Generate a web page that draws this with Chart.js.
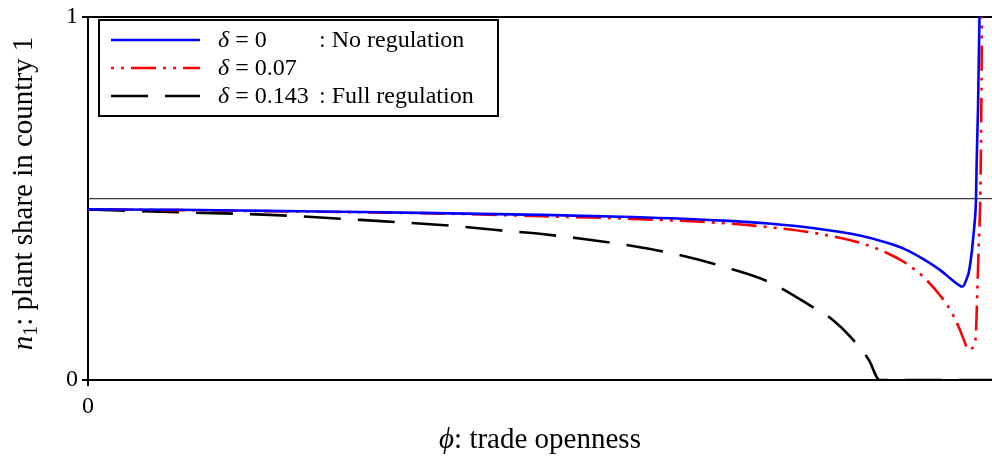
<!DOCTYPE html>
<html>
<head>
<meta charset="utf-8">
<script src="https://cdn.jsdelivr.net/npm/chart.js@4.4.1/dist/chart.umd.min.js"></script>
<style>
    html, body { margin: 0; padding: 0; background: #fff; }
    canvas { display: block; }
</style>
</head>
<body>
<canvas id="plant-share-chart" width="992" height="457"></canvas>
<script>
// phi: trade openness, n1: plant share in country 1
const phiNoRegulation = [0, 0.1, 0.2, 0.3, 0.4, 0.5, 0.6, 0.7, 0.75, 0.8, 0.85, 0.88, 0.9, 0.92, 0.94, 0.95, 0.96, 0.9625, 0.965, 0.968, 0.97, 0.9735, 0.975, 0.9765, 0.978, 0.9787, 0.9802, 0.9818];
const shareNoRegulation = [0.470, 0.469, 0.466, 0.463, 0.459, 0.455, 0.449, 0.439, 0.431, 0.418, 0.398, 0.378, 0.360, 0.333, 0.300, 0.279, 0.260, 0.257, 0.262, 0.281, 0.296, 0.356, 0.395, 0.435, 0.500, 0.600, 0.750, 1.000];

const phiPartial = [0, 0.1, 0.2, 0.3, 0.4, 0.5, 0.6, 0.7, 0.75, 0.8, 0.85, 0.88, 0.9, 0.92, 0.94, 0.95, 0.96, 0.965, 0.9695, 0.972, 0.9765, 0.978, 0.9795, 0.981, 0.9828, 0.984, 0.9845];
const sharePartial = [0.470, 0.468, 0.465, 0.462, 0.458, 0.451, 0.444, 0.432, 0.421, 0.405, 0.378, 0.350, 0.323, 0.284, 0.228, 0.191, 0.140, 0.108, 0.083, 0.086, 0.098, 0.135, 0.250, 0.370, 0.520, 0.800, 1.000];

const phiFull = [0, 0.1, 0.2, 0.3, 0.4, 0.45, 0.5, 0.55, 0.6, 0.65, 0.7, 0.75, 0.8, 0.82, 0.84, 0.86, 0.872, 1];
const shareFull = [0.470, 0.462, 0.455, 0.441, 0.425, 0.413, 0.402, 0.387, 0.369, 0.345, 0.312, 0.270, 0.198, 0.166, 0.118, 0.055, 0, 0];

const deltaValues = ['0', '0.07', '0.143'];
const regimeLabels = [': No regulation', '', ': Full regulation'];

const xTickValues = [0, 1];
const yTickValues = [0, 0.5, 1];
const yTickLabels = ['0', '', '1'];

const SERIF = '"Liberation Serif", "DejaVu Serif", serif';

function toPoints(xs, ys) {
    return xs.map((x, i) => ({ x: x, y: ys[i] }));
}

// draws a row of text pieces (some italic, some subscript)
function drawRuns(ctx, runs, x, y, size, align) {
    const fontFor = r => (r.italic ? 'italic ' : '') + (r.size || size) + 'px ' + SERIF;
    let total = 0;
    runs.forEach(r => { ctx.font = fontFor(r); total += ctx.measureText(r.text).width; });
    let cx = align === 'center' ? x - total / 2 : x;
    runs.forEach(r => {
        ctx.font = fontFor(r);
        ctx.fillText(r.text, cx, y + (r.dy || 0));
        cx += ctx.measureText(r.text).width;
    });
}

const customLegend = {
    id: 'customLegend',
    afterDatasetsDraw(chart) {
        const ctx = chart.ctx;
        ctx.save();
        ctx.fillStyle = '#fff';
        ctx.fillRect(99, 20, 399, 96);
        ctx.strokeStyle = '#000';
        ctx.lineWidth = 2;
        ctx.strokeRect(99, 20, 399, 96);

        chart.data.datasets.forEach((ds, i) => {
            const y = 40 + i * 28;
            ctx.beginPath();
            ctx.strokeStyle = ds.borderColor;
            ctx.lineWidth = ds.borderWidth;
            ctx.setLineDash(ds.borderDash || []);
            ctx.moveTo(111, y);
            ctx.lineTo(200, y);
            ctx.stroke();
            ctx.setLineDash([]);

            ctx.fillStyle = '#000';
            ctx.textBaseline = 'middle';
            drawRuns(ctx, [{ text: 'δ', italic: true }, { text: ' = ' + deltaValues[i] }], 218, y + 1, 24);
            if (regimeLabels[i]) {
                drawRuns(ctx, [{ text: regimeLabels[i] }], 319, y + 1, 24);
            }
        });
        ctx.restore();
    }
};

const axisTitles = {
    id: 'axisTitles',
    afterDraw(chart) {
        const ctx = chart.ctx;
        const area = chart.chartArea;
        ctx.save();
        ctx.fillStyle = '#000';
        ctx.textBaseline = 'alphabetic';
        drawRuns(ctx, [{ text: 'ϕ', italic: true }, { text: ': trade openness' }], 540, 448, 29, 'center');

        ctx.translate(32, (area.top + area.bottom) / 2 - 5);
        ctx.rotate(-Math.PI / 2);
        drawRuns(ctx, [
            { text: 'n', italic: true },
            { text: '1', size: 20, dy: 5 },
            { text: ': plant share in country 1' }
        ], 0, 0, 29, 'center');
        ctx.restore();
    }
};

const ctx = document.getElementById('plant-share-chart');

new Chart(ctx, {
    type: 'line',
    data: {
        datasets: [{
            label: 'No regulation',
            data: toPoints(phiNoRegulation, shareNoRegulation),
            borderColor: '#0000ff',
            borderWidth: 2.6,
            cubicInterpolationMode: 'monotone'
        }, {
            label: 'delta 0.07',
            data: toPoints(phiPartial, sharePartial),
            borderColor: '#ff0000',
            borderWidth: 2.6,
            borderDash: [3, 7, 3, 7, 25, 7],
            cubicInterpolationMode: 'monotone'
        }, {
            label: 'Full regulation',
            data: toPoints(phiFull, shareFull),
            borderColor: '#000000',
            borderWidth: 2.6,
            borderDash: [37, 17],
            cubicInterpolationMode: 'monotone'
        }]
    },
    options: {
        responsive: false,
        animation: false,
        events: [],
        elements: { point: { radius: 0 } },
        layout: {
            autoPadding: false,
            padding: { top: 17, right: 0, bottom: 0, left: 0 }
        },
        plugins: {
            legend: { display: false },
            tooltip: { enabled: false }
        },
        scales: {
            x: {
                type: 'linear',
                min: 0,
                // the figure is cropped just before phi = 1
                max: 0.9956,
                afterBuildTicks: scale => { scale.ticks = xTickValues.map(v => ({ value: v })); },
                afterFit: scale => { scale.height = 77; scale.paddingLeft = 0; scale.paddingRight = 0; },
                ticks: {
                    color: '#000',
                    font: { family: SERIF, size: 24 },
                    padding: 6,
                    maxRotation: 0,
                    callback: value => String(value)
                },
                grid: {
                    drawOnChartArea: false,
                    tickLength: 6,
                    color: '#000',
                    lineWidth: 2
                },
                border: { color: '#000', width: 2 }
            },
            y: {
                min: 0,
                max: 1,
                afterBuildTicks: scale => { scale.ticks = yTickValues.map(v => ({ value: v })); },
                afterFit: scale => { scale.width = 88; scale.paddingTop = 0; scale.paddingBottom = 0; },
                ticks: {
                    color: '#000',
                    font: { family: SERIF, size: 24 },
                    padding: 4,
                    callback: (value, index) => yTickLabels[index]
                },
                grid: {
                    tickLength: 6,
                    color: c => c.tick.value === 0.5 ? '#3a3a3a' : (c.tick.value === 1 ? '#000' : 'rgba(0,0,0,0)'),
                    tickColor: c => c.tick.value === 0.5 ? 'rgba(0,0,0,0)' : '#000',
                    lineWidth: c => c.tick.value === 0.5 ? 1.2 : 2
                },
                border: { color: '#000', width: 2 }
            }
        }
    },
    plugins: [customLegend, axisTitles]
});
</script>
</body>
</html>
